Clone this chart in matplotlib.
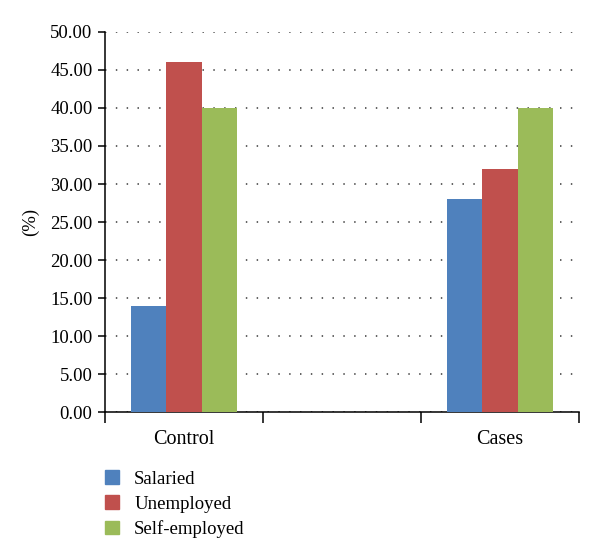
import matplotlib
matplotlib.use("Agg")
import matplotlib.pyplot as plt
from matplotlib.patches import Patch
import numpy as np

categories = ["Control", "", "Cases"]
series_names = ["Salaried", "Unemployed", "Self-employed"]
salaried = [14.0, np.nan, 28.0]
unemployed = [46.0, np.nan, 32.0]
self_employed = [40.0, np.nan, 40.0]
colors = ["#4F81BD", "#C0504D", "#9BBB59"]
yticks = [0, 5, 10, 15, 20, 25, 30, 35, 40, 45, 50]

plt.rcParams["font.family"] = ["Liberation Serif", "DejaVu Serif"]

fig = plt.figure(figsize=(6, 5.6), dpi=100)
ax = fig.add_axes([0.175, 0.264, 0.79, 0.679])

x = np.arange(len(categories))
w = 0.222
for i, (vals, c, name) in enumerate(zip([salaried, unemployed, self_employed], colors, series_names)):
    ax.bar(x + (i - 1) * w, vals, width=w, color=c, label=name, zorder=3)

ax.set_xlim(-0.5, 2.5)
ax.set_ylim(0, 50)
ax.set_yticks(yticks)
ax.set_yticklabels([f"{v:.2f}" for v in yticks], fontsize=13.5)
ax.set_xticks([0, 2])
ax.set_xticklabels(["Control", "Cases"], fontsize=14.5)
ax.tick_params(axis="x", length=0, pad=13)
ax.set_xticks([-0.5, 0.5, 1.5, 2.5], minor=True)
ax.tick_params(axis="x", which="minor", length=8, width=1.1, direction="out")
ax.tick_params(axis="y", length=5, width=1.1, direction="out", pad=4)

for s in ["top", "right"]:
    ax.spines[s].set_visible(False)
for s in ["left", "bottom"]:
    ax.spines[s].set_linewidth(1.1)

ax.yaxis.grid(True, linestyle=(0, (0.8, 5.2)), color="#555555", linewidth=1.3, zorder=0)
ax.set_axisbelow(True)
ax.set_ylabel("(%)", fontsize=13.5, labelpad=8)

handles = [Patch(color=c, label=n) for c, n in zip(colors, series_names)]
fig.legend(handles=handles, loc="upper left", bbox_to_anchor=(0.147, 0.19),
           frameon=False, fontsize=13.5, handlelength=0.75, handleheight=0.75,
           handletextpad=0.8, labelspacing=0.4)

fig.savefig("out.png", dpi=100)
